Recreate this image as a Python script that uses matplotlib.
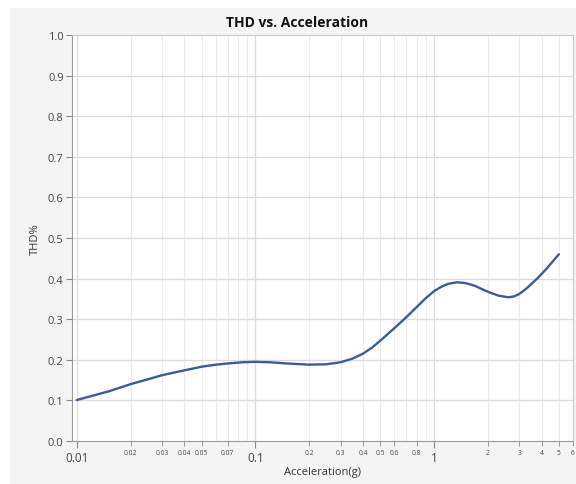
import numpy as np
import matplotlib
matplotlib.use('Agg')
import matplotlib.pyplot as plt
from matplotlib.patches import Rectangle
from matplotlib.ticker import FixedLocator

# values
accel = [0.01, 0.015, 0.02, 0.025, 0.03, 0.04, 0.05, 0.06, 0.07, 0.085,
         0.1, 0.12, 0.15, 0.2, 0.25, 0.3, 0.35, 0.4, 0.45, 0.5, 0.6, 0.7,
         0.8, 0.9, 1.0, 1.1, 1.2, 1.34, 1.5, 1.7, 1.9, 2.07, 2.3, 2.6, 2.8,
         3.0, 3.3, 3.8, 4.3, 5.0]
thd = [0.101, 0.122, 0.140, 0.152, 0.162, 0.174, 0.183, 0.188, 0.191,
       0.194, 0.195, 0.194, 0.191, 0.188, 0.189, 0.194, 0.203, 0.215,
       0.230, 0.247, 0.278, 0.305, 0.330, 0.352, 0.369, 0.380, 0.387,
       0.391, 0.389, 0.382, 0.372, 0.365, 0.358, 0.354, 0.356, 0.362,
       0.376, 0.401, 0.426, 0.460]

major_ticks = [0.01, 0.1, 1]
major_labels = ['0.01', '0.1', '1']
minor_ticks = [0.02, 0.03, 0.04, 0.05, 0.07, 0.2, 0.3, 0.4, 0.5, 0.6, 0.8,
               2, 3, 4, 5, 6]
minor_labels = ['0.02', '0.03', '0.04', '0.05', '0.07', '0.2', '0.3', '0.4',
                '0.5', '0.6', '0.8', '2', '3', '4', '5', '6']
grid_minor = [0.02, 0.03, 0.04, 0.05, 0.06, 0.07, 0.08, 0.09,
              0.2, 0.3, 0.4, 0.5, 0.6, 0.7, 0.8, 0.9, 2, 3, 4, 5]
y_ticks = [0.0, 0.1, 0.2, 0.3, 0.4, 0.5, 0.6, 0.7, 0.8, 0.9, 1.0]

plt.rcParams['font.family'] = ['Open Sans', 'DejaVu Sans']

fig = plt.figure(figsize=(5.76, 4.85), dpi=100, facecolor='white')
fig.patches.append(Rectangle((10 / 576, 0), 1, 1 - 9 / 485,
                             transform=fig.transFigure, facecolor='#f4f4f4',
                             edgecolor='none', zorder=-10))

ax = fig.add_axes([72 / 576, 43 / 485, 501 / 576, 406 / 485])
ax.set_facecolor('white')
ax.set_xscale('log')
ax.set_xlim(0.0094, 6.0)
ax.set_ylim(0, 1.0)

for g in grid_minor:
    ax.axvline(g, color='#ebebeb', lw=0.8, zorder=0)
for g in major_ticks:
    ax.axvline(g, color='#dcdcdc', lw=0.9, zorder=0)
for v in y_ticks[1:-1]:
    ax.axhline(v, color='#dcdcdc', lw=0.9, zorder=0)

ax.plot(accel, thd, color='#3d5a99', lw=1.7, zorder=3,
        solid_capstyle='round', solid_joinstyle='round')

ax.xaxis.set_major_locator(FixedLocator(major_ticks))
ax.set_xticklabels(major_labels)
ax.xaxis.set_minor_locator(FixedLocator(minor_ticks))
ax.set_xticklabels(minor_labels, minor=True)
ax.tick_params(axis='x', which='major', length=5, width=0.8, color='#888888',
               labelsize=8.5, labelcolor='#444444', pad=2)
ax.tick_params(axis='x', which='minor', length=3.5, width=0.6,
               color='#888888', labelsize=4.8, labelcolor='#444444', pad=2.5)

ax.set_yticks(y_ticks)
ax.set_yticklabels(['%.1f' % v for v in y_ticks])
ax.tick_params(axis='y', length=4, width=0.8, color='#888888',
               labelsize=8, labelcolor='#444444', pad=2)

for side in ['top', 'right']:
    ax.spines[side].set_color('#c8c8c8')
    ax.spines[side].set_linewidth(0.8)
for side in ['left', 'bottom']:
    ax.spines[side].set_color('#999999')
    ax.spines[side].set_linewidth(0.8)

ax.set_xlabel('Acceleration(g)', fontsize=8, color='#333333', labelpad=2)
ax.set_ylabel('THD%', fontsize=8, color='#333333', labelpad=5)
fig.text(297 / 576, 1 - 23 / 485, 'THD vs. Acceleration', ha='center',
         va='center', fontsize=10, fontweight='bold', color='#111111')

fig.savefig('out.png', dpi=100, facecolor=fig.get_facecolor())
